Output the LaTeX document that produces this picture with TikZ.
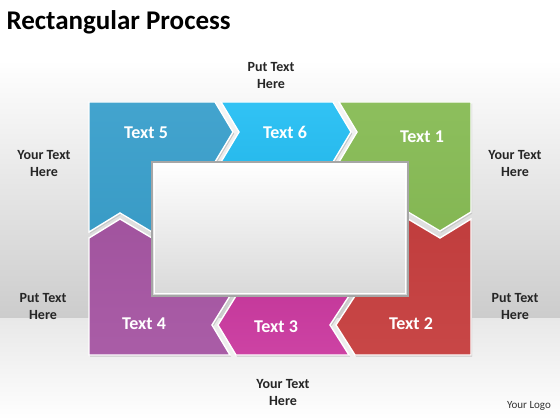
\documentclass[tikz,border=0pt]{standalone}
\usepackage{fontspec}
\setmainfont{Carlito}
\usepackage{xcolor}

\definecolor{pieceBlue}{HTML}{3BA0CC}
\definecolor{pieceCyan}{HTML}{29C0F4}
\definecolor{pieceGreen}{HTML}{88BC56}
\definecolor{pieceRed}{HTML}{C63F3F}
\definecolor{pieceMagenta}{HTML}{CB3BA0}
\definecolor{piecePurple}{HTML}{A656A3}

\begin{document}
\begin{tikzpicture}[x=1pt,y=-1pt,
  piece/.style={draw=white,line width=1.4pt,line join=miter},
  pieceshadow/.style={fill=black!22,xshift=1.2pt,yshift=-1.6pt},
  stepname/.style={text=white,font=\bfseries\fontsize{18}{21}\selectfont},
  sidetext/.style={align=center,text=black!85,font=\bfseries\fontsize{14}{17}\selectfont}]
\newcommand{\pieceFive}{(89,102) -- (215,102) -- (233,132) -- (215,162) -- (152,162) -- (152,232) -- (120,213) -- (89,232) -- cycle}
\newcommand{\pieceSix}{(221,102) -- (333,102) -- (351,132) -- (333,162) -- (221,162) -- (239,132) -- cycle}
\newcommand{\pieceOne}{(339,102) -- (471,102) -- (471,212) -- (440,231) -- (408,212) -- (408,162) -- (339,162) -- (357,132) -- cycle}
\newcommand{\pieceTwo}{(408,219) -- (440,238) -- (471,219) -- (471,355) -- (355,355) -- (336,325) -- (355,296) -- (408,296) -- cycle}
\newcommand{\pieceThree}{(236,296) -- (349,296) -- (330,325) -- (349,355) -- (236,355) -- (218,325) -- cycle}
\newcommand{\pieceFour}{(89,238) -- (120,219) -- (152,238) -- (152,296) -- (230,296) -- (212,325) -- (230,355) -- (89,355) -- cycle}
\useasboundingbox (0,0) rectangle (560,420);
\fill[white] (0,0) rectangle (560,60);
\shade[top color=white,bottom color=black!20] (0,60) rectangle (560,318); %wall
\shade[top color=black!9,bottom color=white] (0,318) rectangle (560,420); %floor
\node[anchor=west,font=\bfseries\fontsize{27}{31}\selectfont] (title) at (3,22) {Rectangular Process};
% shadows of the pieces
\foreach \p in {\pieceFive,\pieceSix,\pieceOne,\pieceTwo,\pieceThree,\pieceFour}
  \fill[pieceshadow] \p;
\path[piece,top color=pieceBlue!96!white,bottom color=pieceBlue!97!black] \pieceFive;
\path[piece,top color=pieceCyan!96!white,bottom color=pieceCyan!97!black] \pieceSix;
\path[piece,top color=pieceGreen!96!white,bottom color=pieceGreen!97!black] \pieceOne;
\path[piece,top color=pieceRed!97!black,bottom color=pieceRed!96!white] \pieceTwo;
\path[piece,top color=pieceMagenta!97!black,bottom color=pieceMagenta!96!white] \pieceThree;
\path[piece,top color=piecePurple!97!black,bottom color=piecePurple!96!white] \pieceFour;
% middle panel
\path[draw=black!35,line width=1.2pt,top color=white,bottom color=black!15] (152,162) rectangle (408,296);
\draw[white,line width=0.6pt] (154.5,164.5) rectangle (405.5,293.5);
% labels on the pieces
\node[stepname] (t5) at (146,133) {Text 5};
\node[stepname] (t6) at (285,132) {Text 6};
\node[stepname] (t1) at (422,137) {Text 1};
\node[stepname] (t2) at (411,324) {Text 2};
\node[stepname] (t3) at (276,327) {Text 3};
\node[stepname] (t4) at (144,324) {Text 4};
% texts round the frame
\node[sidetext] (topnote) at (271,76) {Put Text\\Here};
\node[sidetext] (leftup) at (44,164) {Your Text\\Here};
\node[sidetext] (rightup) at (515,164) {Your Text\\Here};
\node[sidetext] (leftdown) at (43,307) {Put Text\\Here};
\node[sidetext] (rightdown) at (515,307) {Put Text\\Here};
\node[sidetext] (bottomnote) at (283,393) {Your Text\\Here};
\node[text=black!80,font=\fontsize{11}{13}\selectfont] (logo) at (529,406) {Your Logo};
\end{tikzpicture}
\end{document}
